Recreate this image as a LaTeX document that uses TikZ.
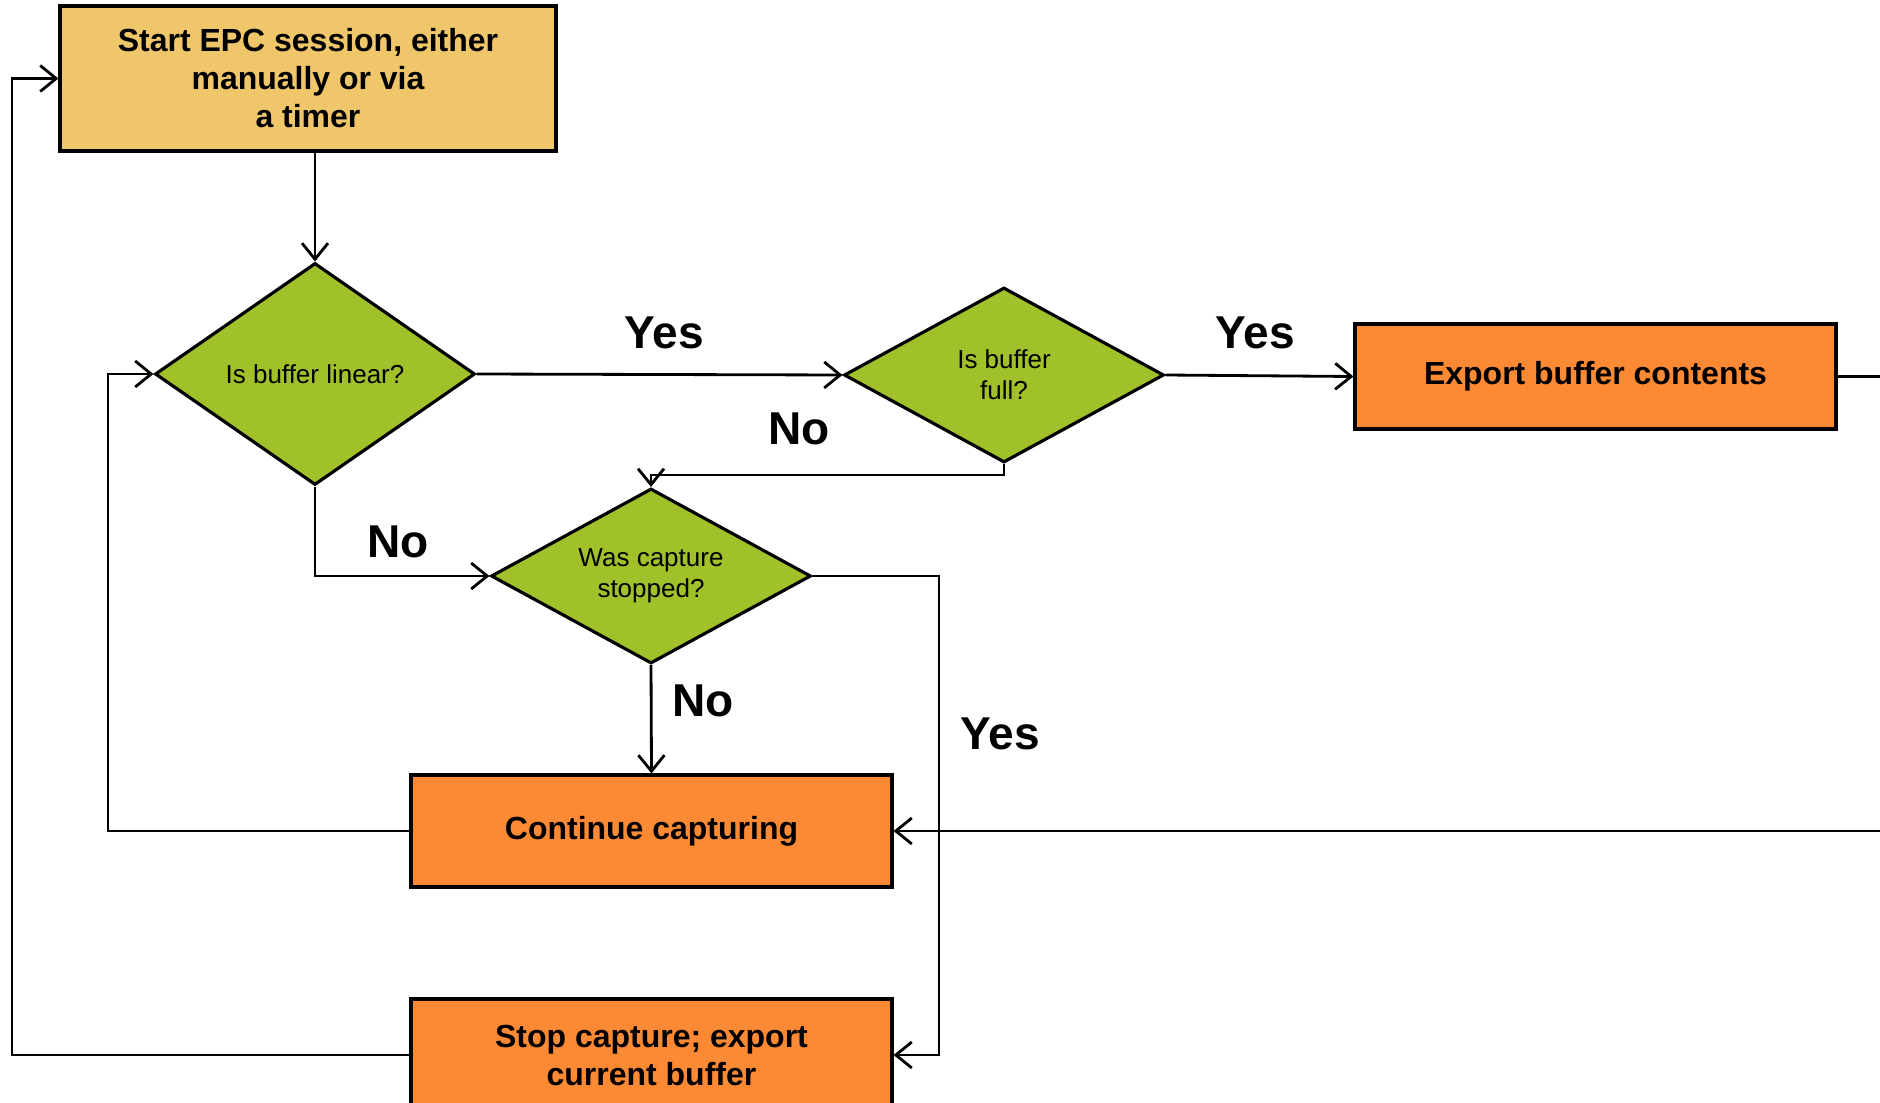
\documentclass[tikz,border=0pt]{standalone}
\usepackage{fontspec}
\setmainfont{Liberation Sans}
\usetikzlibrary{arrows.meta,shapes.geometric}

\definecolor{startfill}{RGB}{240,198,106}
\definecolor{actfill}{RGB}{252,138,52}
\definecolor{askfill}{RGB}{160,193,41}

\begin{document}
\begin{tikzpicture}[>={Straight Barb[length=1.6mm,width=2.6mm]},line join=miter]
  \tikzset{
    startbox/.style={draw,line width=0.9pt,fill=startfill,inner sep=0pt,align=center,
      font=\fontsize{9.1}{10.8}\selectfont\bfseries,minimum width=4.96cm,minimum height=1.45cm},
    actbox/.style={draw,line width=0.9pt,fill=actfill,inner sep=0pt,align=center,
      font=\fontsize{9.1}{10.8}\selectfont\bfseries,minimum width=4.81cm,minimum height=1.12cm},
    ask/.style={diamond,draw,line width=0.9pt,fill=askfill,inner sep=0pt,align=center,
      font=\fontsize{7.4}{8.9}\selectfont,minimum width=3.2cm,aspect=1.8},
    flow/.style={->,line width=0.8pt},
    answer/.style={font=\fontsize{13.1}{15}\selectfont\bfseries}
  }

  \useasboundingbox (0,0) rectangle (18.8,11.02);
  \clip (0,0) rectangle (18.8,11.02);

  % steps and questions
  \node[startbox] (start) at (3.08,10.235) {Start EPC session, either\\manually or via\\a timer};
  \node[ask,minimum height=2.22cm,aspect=1.44] (lin) at (3.15,7.28) {Is buffer linear?};
  \node[ask,minimum height=1.75cm] (full) at (10.04,7.27) {Is buffer\\full?};
  \node[actbox,minimum height=1.05cm] (export) at (15.955,7.255) {Export buffer contents};
  \node[ask,minimum height=1.75cm] (cap) at (6.51,5.26) {Was capture\\stopped?};
  \node[actbox] (cont) at (6.515,2.71) {Continue capturing};
  \node[actbox] (stop) at (6.515,0.47) {Stop capture; export\\current buffer};

  % bends of the loops
  \coordinate (nobend) at (10.04,6.27);
  \coordinate (yesx) at (9.39,0);
  \coordinate (farright) at (19.3,0);
  \coordinate (linx) at (1.08,0);
  \coordinate (startx) at (0.12,0);

  \draw[flow] (lin.north |- start.south) -- (lin.north);
  \draw[flow] (lin.east) -- (full.west);
  \draw[flow] (full.east) -- (export.west);
  \draw[flow] (full.south) -- (nobend) -| (cap.north);
  \draw[flow] (lin.south) |- (cap.west);
  \draw[flow] (cap.south) -- (cont.north);
  \draw[flow] (cap.east) -- (cap.east -| yesx) |- (stop.east);
  \draw[flow] (export.east) -- (export.east -| farright) |- (cont.east);
  \draw[flow] (cont.west) -- (cont.west -| linx) |- (lin.west);
  \draw[flow] (stop.west) -- (stop.west -| startx) |- (start.west);

  % answers
  \node[answer] (lin-yes) at (6.64,7.69) {Yes};
  \node[answer] (full-yes) at (12.55,7.69) {Yes};
  \node[answer] (full-no) at (7.99,6.73) {No};
  \node[answer] (lin-no) at (3.98,5.60) {No};
  \node[answer] (cap-no) at (7.03,4.01) {No};
  \node[answer] (cap-yes) at (10.00,3.68) {Yes};
\end{tikzpicture}
\end{document}
